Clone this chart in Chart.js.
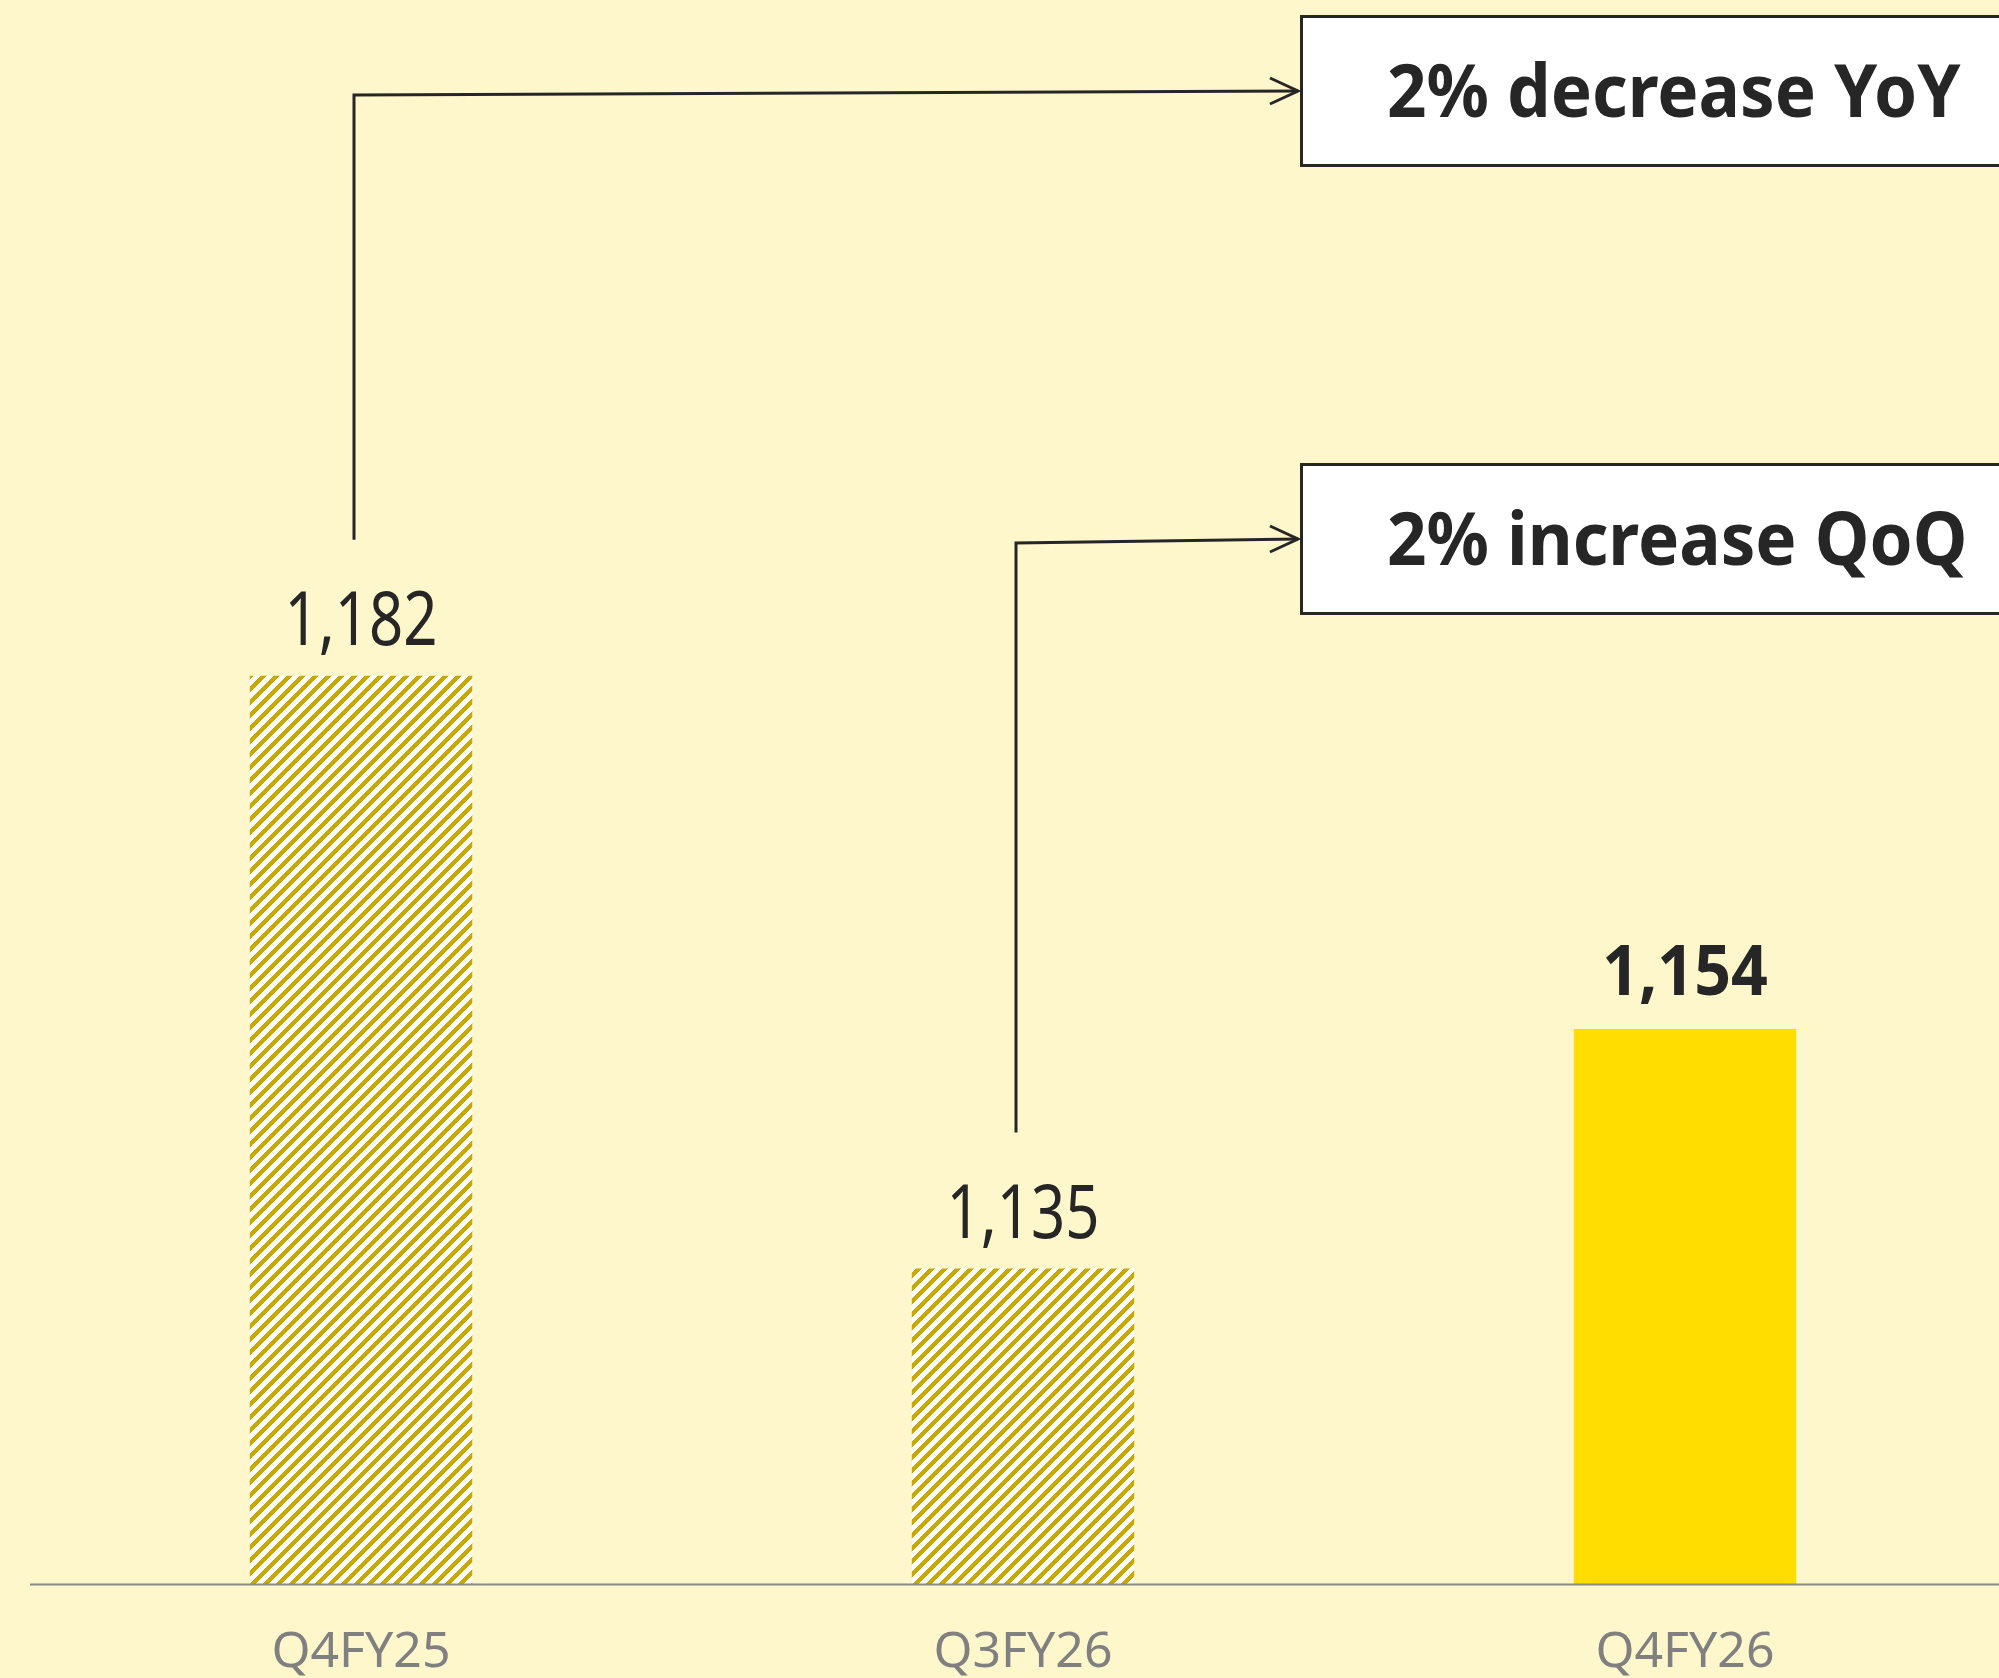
<!DOCTYPE html>
<html lang="en">
<head>
    <meta charset="UTF-8">
    <title>Quarterly comparison</title>
    <script src="https://cdn.jsdelivr.net/npm/chart.js"></script>
    <style>
        html, body {
            margin: 0;
            padding: 0;
            overflow: hidden;
            background: #fff7cc;
        }
        #wrap {
            width: 2016px;
            height: 1678px;
        }
    </style>
</head>
<body>
    <div id="wrap">
        <canvas id="qChart"></canvas>
    </div>

    <script>
        // chart data
        const categories = ['Q4FY25', 'Q3FY26', 'Q4FY26'];
        const values = [1182, 1135, 1154];
        const highlight = [false, false, true];

        // callouts: text and the bar the arrow starts from
        const calloutTexts = ['2% decrease YoY', '2% increase QoQ'];
        const calloutFrom = [0, 1];

        const INK = '#262626';

        // crisp diagonal stripes, gold on white
        function hatchPattern(ctx) {
            const s = 13, w = 6;
            const c = document.createElement('canvas');
            c.width = s;
            c.height = s;
            const p = c.getContext('2d');
            const img = p.createImageData(s, s);
            for (let y = 0; y < s; y++) {
                for (let x = 0; x < s; x++) {
                    const i = (y * s + x) * 4;
                    const gold = (x + y) % s < w;
                    img.data[i] = gold ? 0xc9 : 255;
                    img.data[i + 1] = gold ? 0xa8 : 255;
                    img.data[i + 2] = gold ? 0x00 : 255;
                    img.data[i + 3] = 255;
                }
            }
            p.putImageData(img, 0, 0);
            return ctx.createPattern(c, 'repeat');
        }

        function drawText(ctx, txt, x, y, font, sx, align) {
            ctx.save();
            ctx.font = font;
            ctx.fillStyle = INK;
            ctx.textAlign = align;
            ctx.textBaseline = 'alphabetic';
            ctx.translate(x, y);
            ctx.scale(sx, 1);
            ctx.fillText(txt, 0, 0);
            ctx.restore();
        }

        const annotations = {
            id: 'annotations',
            afterDatasetsDraw(chart) {
                const ctx = chart.ctx;
                const area = chart.chartArea;
                const bars = chart.getDatasetMeta(0).data;

                // baseline
                ctx.save();
                ctx.strokeStyle = '#888888';
                ctx.lineWidth = 2;
                ctx.beginPath();
                ctx.moveTo(area.left, area.bottom + 0.5);
                ctx.lineTo(chart.width, area.bottom + 0.5);
                ctx.stroke();
                ctx.restore();

                // value labels
                bars.forEach((bar, i) => {
                    if (highlight[i]) {
                        drawText(ctx, values[i].toLocaleString('en-US'), bar.x, bar.y - 34,
                            'bold 70px "Noto Sans"', 0.92, 'center');
                    } else {
                        drawText(ctx, values[i].toLocaleString('en-US'), bar.x, bar.y - 31,
                            '74px "Noto Sans"', 0.81, 'center');
                    }
                });

                // callout boxes with arrows
                const boxLeft = 1300;
                const boxH = 152;
                const boxTops = [15, 463];
                calloutTexts.forEach((txt, k) => {
                    const bar = bars[calloutFrom[k]];
                    const top = boxTops[k];
                    const mid = top + boxH / 2;
                    const lx = bar.x - 7;
                    const ly = bar.y - 136;

                    ctx.save();
                    ctx.strokeStyle = INK;
                    ctx.lineWidth = 3;
                    ctx.lineJoin = 'miter';
                    ctx.beginPath();
                    ctx.moveTo(lx, ly);
                    ctx.lineTo(lx, mid + 4);
                    ctx.lineTo(boxLeft - 2, mid);
                    ctx.stroke();
                    ctx.beginPath();
                    ctx.moveTo(boxLeft - 30, mid - 13);
                    ctx.lineTo(boxLeft - 2, mid);
                    ctx.lineTo(boxLeft - 30, mid + 13);
                    ctx.stroke();

                    ctx.fillStyle = '#ffffff';
                    ctx.fillRect(boxLeft, top, chart.width, boxH);
                    ctx.strokeRect(boxLeft + 1.5, top + 1.5, chart.width, boxH - 3);
                    ctx.restore();

                    drawText(ctx, txt, 1387, mid + 26, 'bold 74px "Noto Sans"', 0.935, 'left');
                });
            }
        };

        const ctx = document.getElementById('qChart').getContext('2d');
        const hatch = hatchPattern(ctx);

        new Chart(ctx, {
            type: 'bar',
            data: {
                labels: categories,
                datasets: [{
                    data: values,
                    backgroundColor: highlight.map(h => h ? '#ffdd00' : hatch),
                    borderWidth: 0,
                    barPercentage: 0.336,
                    categoryPercentage: 1
                }]
            },
            options: {
                responsive: true,
                maintainAspectRatio: false,
                animation: false,
                layout: {
                    padding: { left: 30, top: 7, right: 0, bottom: 0 }
                },
                plugins: {
                    legend: { display: false },
                    tooltip: { enabled: false }
                },
                scales: {
                    x: {
                        grid: { display: false },
                        border: { display: false },
                        ticks: {
                            color: '#808080',
                            font: { family: 'Noto Sans', size: 50 },
                            padding: 31
                        },
                        afterFit(scale) {
                            scale.height = 94;
                        }
                    },
                    y: {
                        display: false,
                        min: 1110,
                        max: 1235
                    }
                }
            },
            plugins: [annotations]
        });
    </script>
</body>
</html>
